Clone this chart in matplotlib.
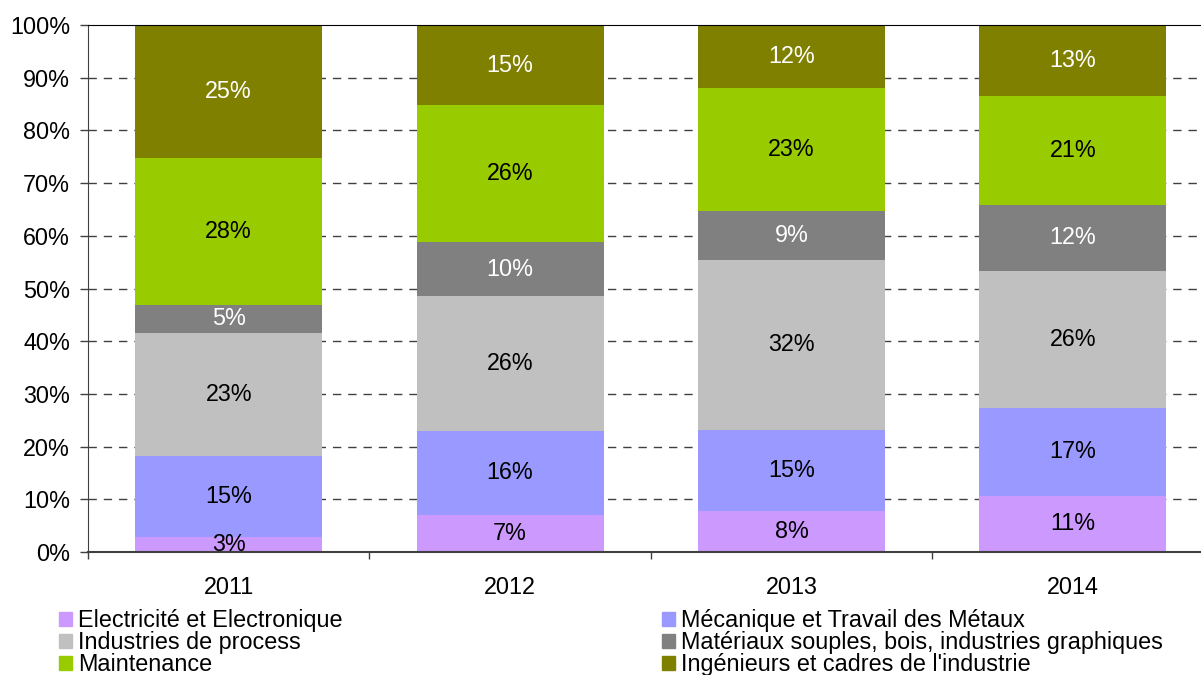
import matplotlib
matplotlib.use("Agg")
import matplotlib.pyplot as plt
from matplotlib.patches import Patch
import numpy as np

plt.rcParams['font.family'] = ['Liberation Sans', 'DejaVu Sans']

# années
years = ['2011', '2012', '2013', '2014']

# parts par filière (%)
elec = [2.9, 7.0, 7.8, 10.7]
meca = [15.3, 16.0, 15.3, 16.7]
process = [23.4, 25.6, 32.4, 26.0]
materiaux = [5.3, 10.2, 9.3, 12.4]
maintenance = [27.9, 26.0, 23.2, 20.8]
ingenieurs = [25.2, 15.2, 12.0, 13.4]

series = [elec, meca, process, materiaux, maintenance, ingenieurs]
names = ['Electricité et Electronique', 'Mécanique et Travail des Métaux',
         'Industries de process', 'Matériaux souples, bois, industries graphiques',
         'Maintenance', "Ingénieurs et cadres de l'industrie"]
colors = ['#CC99FF', '#9999FF', '#C0C0C0', '#808080', '#99CC00', '#808000']
text_colors = ['black', 'black', 'black', 'white', 'black', 'white']

FS = 16.8

fig = plt.figure(figsize=(12.01, 6.75), dpi=100)
ax = fig.add_axes([88 / 1201, 1 - 552 / 675, 1125.5 / 1201, 527 / 675])

x = np.arange(len(years))
bottom = np.zeros(len(years))
for vals, col, tc in zip(series, colors, text_colors):
    bars = ax.bar(x, vals, 0.665, bottom=bottom, color=col, zorder=2)
    ax.bar_label(bars, labels=[f"{v:.0f}%" for v in vals], label_type='center',
                 color=tc, fontsize=FS)
    bottom += np.array(vals)

ax.set_xlim(-0.5, 3.5)
ax.set_ylim(0, 100)
ax.set_yticks(np.arange(0, 101, 10))
ax.set_yticklabels([f"{v}%" for v in range(0, 101, 10)], fontsize=FS)
ax.set_xticks(x)
ax.set_xticklabels(years, fontsize=FS)
ax.set_xticks(np.arange(-0.5, 4, 1), minor=True)
ax.tick_params(axis='x', which='major', length=0, pad=17)
ax.tick_params(axis='x', which='minor', length=5, width=1, color='#404040')
ax.tick_params(axis='y', length=6, width=1, color='#404040', pad=7)

for yv in range(10, 100, 10):
    ax.axhline(yv, color='#404040', lw=1, dashes=(6, 5), zorder=1)

ax.spines['right'].set_visible(False)
ax.spines['top'].set_color('black')
ax.spines['left'].set_color('#404040')
ax.spines['bottom'].set_color('#404040')
ax.spines['bottom'].set_linewidth(1.5)

# légende en deux colonnes
leg_kw = dict(loc='upper left', frameon=False, fontsize=FS, handlelength=0.55,
              handleheight=0.55, handletextpad=0.25, labelspacing=-0.04,
              borderpad=0, borderaxespad=0)
left_idx = [0, 2, 4]
right_idx = [1, 3, 5]
fig.legend([Patch(color=colors[i]) for i in left_idx], [names[i] for i in left_idx],
           bbox_to_anchor=(59 / 1201, 1 - 609 / 675), **leg_kw)
fig.legend([Patch(color=colors[i]) for i in right_idx], [names[i] for i in right_idx],
           bbox_to_anchor=(662 / 1201, 1 - 609 / 675), **leg_kw)

fig.savefig('out.png', dpi=100)
